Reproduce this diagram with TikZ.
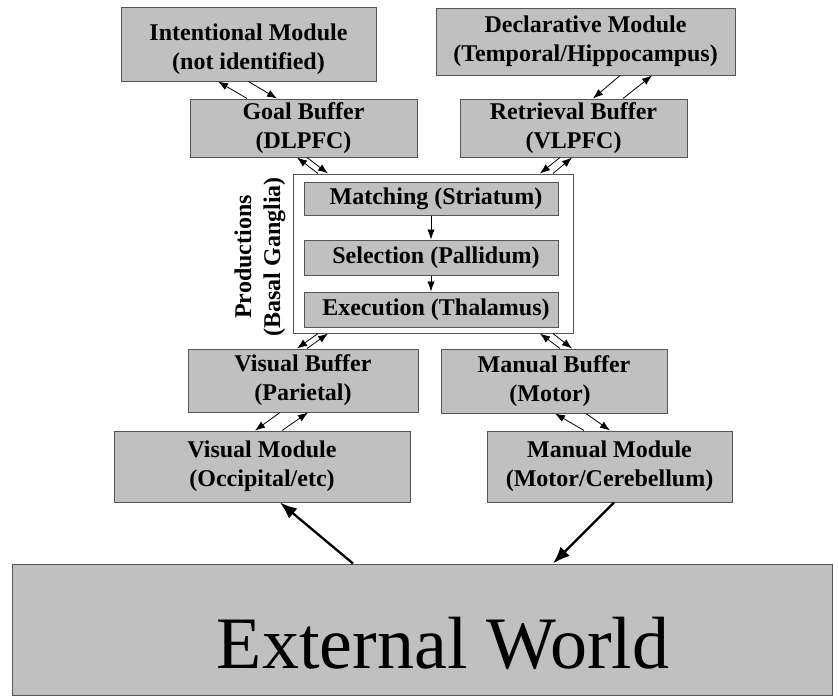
\documentclass[tikz,border=0pt]{standalone}
\usepackage{fontspec}
\setmainfont{Liberation Serif}
\usetikzlibrary{arrows.meta}
\definecolor{boxgray}{RGB}{192,192,192}
\definecolor{edgegray}{RGB}{85,85,85}
\begin{document}
\begin{tikzpicture}[x=1pt,y=-1pt,
        modtext/.style={inner sep=0pt,align=center,font=\fontsize{24}{29}\selectfont\bfseries},
        modbox/.style={modtext,draw=edgegray,fill=boxgray,line width=1pt},
        link/.style={-{Latex[length=10pt,width=7.5pt]},line width=0.8pt},
        biglink/.style={-{Latex[length=17pt,width=13pt]},line width=2.3pt}]
        \useasboundingbox[fill=white] (0,0) rectangle (838,696);
        %moduli in alto
        \node[modbox,minimum width=255pt,minimum height=74pt,text height=57pt] (intent) at (248.5,44) {Intentional Module\\(not identified)};
        \node[modbox,minimum width=299pt,minimum height=67pt] (decl) at (585.5,41.5) {Declarative Module\\(Temporal/Hippocampus)};
        \node[modbox,minimum width=227pt,minimum height=58pt] (goal) at (303.5,128) {Goal Buffer\\(DLPFC)};
        \node[modbox,minimum width=227pt,minimum height=58pt] (retr) at (573.5,128) {Retrieval Buffer\\(VLPFC)};
        %produzioni
        \node[draw=edgegray,fill=white,line width=1pt,minimum width=280pt,minimum height=159pt] (prod) at (433,253.5) {};
        \node[modtext,rotate=90] (prodlab) at (260,257) {Productions\\(Basal Ganglia)};
        \node[modbox,minimum width=254pt,minimum height=33pt] (match) at (431,198.5) {\hspace*{10pt}Matching (Striatum)};
        \node[modbox,minimum width=254pt,minimum height=35pt] (sel) at (431,257.5) {\hspace*{10pt}Selection (Pallidum)};
        \node[modbox,minimum width=254pt,minimum height=35pt] (exec) at (431,309.5) {\hspace*{10pt}Execution (Thalamus)};
        \draw[link] (match) -- (sel);
        \draw[link] (sel) -- (exec);
        %moduli in basso
        \node[modbox,minimum width=230pt,minimum height=63pt] (vbuf) at (303,380.5) {Visual Buffer\\(Parietal)};
        \node[modbox,minimum width=226pt,minimum height=64pt] (mbuf) at (554,381) {Manual Buffer\\(Motor)\hspace*{8pt}};
        \node[modbox,minimum width=296pt,minimum height=71pt] (vmod) at (262,466.5) {Visual Module\\(Occipital/etc)};
        \node[modbox,minimum width=245pt,minimum height=71pt] (mmod) at (609.5,466.5) {Manual Module\\(Motor/Cerebellum)};
        %mondo esterno
        \node[modbox,minimum width=820pt,minimum height=131pt,
            label={[font=\fontsize{74}{74}\selectfont,xshift=21pt,yshift=-14pt]center:External World}] (world) at (422,629.5) {};
        %frecce doppie
        \draw[link] ([xshift=-56.5pt]goal.north) -- ([xshift=-30.5pt]intent.south);
        \draw[link] (intent.south) -- ([xshift=-26.5pt]goal.north);
        \draw[link] ([xshift=49.5pt]retr.north) -- ([xshift=66.5pt]decl.south);
        \draw[link] ([xshift=34.5pt]decl.south) -- ([xshift=19.5pt]retr.north);
        \draw[link] ([xshift=-115pt]prod.north) -- ([xshift=-6.5pt]goal.south);
        \draw[link] ([xshift=3.5pt]goal.south) -- ([xshift=-105pt]prod.north);
        \draw[link] ([xshift=-13.5pt]retr.south) -- ([xshift=107pt]prod.north);
        \draw[link] ([xshift=120pt]prod.north) -- ([xshift=-1.5pt]retr.south);
        \draw[link] ([xshift=-115pt]prod.south) -- ([xshift=-6pt]vbuf.north);
        \draw[link] ([xshift=4pt]vbuf.north) -- ([xshift=-105pt]prod.south);
        \draw[link] ([xshift=6pt]mbuf.north) -- ([xshift=107pt]prod.south);
        \draw[link] ([xshift=120pt]prod.south) -- ([xshift=18pt]mbuf.north);
        \draw[link] ([xshift=-23pt]vbuf.south) -- ([xshift=-7pt]vmod.north);
        \draw[link] ([xshift=20pt]vmod.north) -- ([xshift=5pt]vbuf.south);
        \draw[link] ([xshift=-25.5pt]mmod.north) -- ([xshift=1pt]mbuf.south);
        \draw[link] ([xshift=32pt]mbuf.south) -- ([xshift=0.5pt]mmod.north);
        %frecce col mondo
        \draw[biglink] ([xshift=-69pt]world.north) -- ([xshift=18pt]vmod.south);
        \draw[biglink] ([xshift=4.5pt]mmod.south) -- ([xshift=131pt]world.north);
\end{tikzpicture}
\end{document}
